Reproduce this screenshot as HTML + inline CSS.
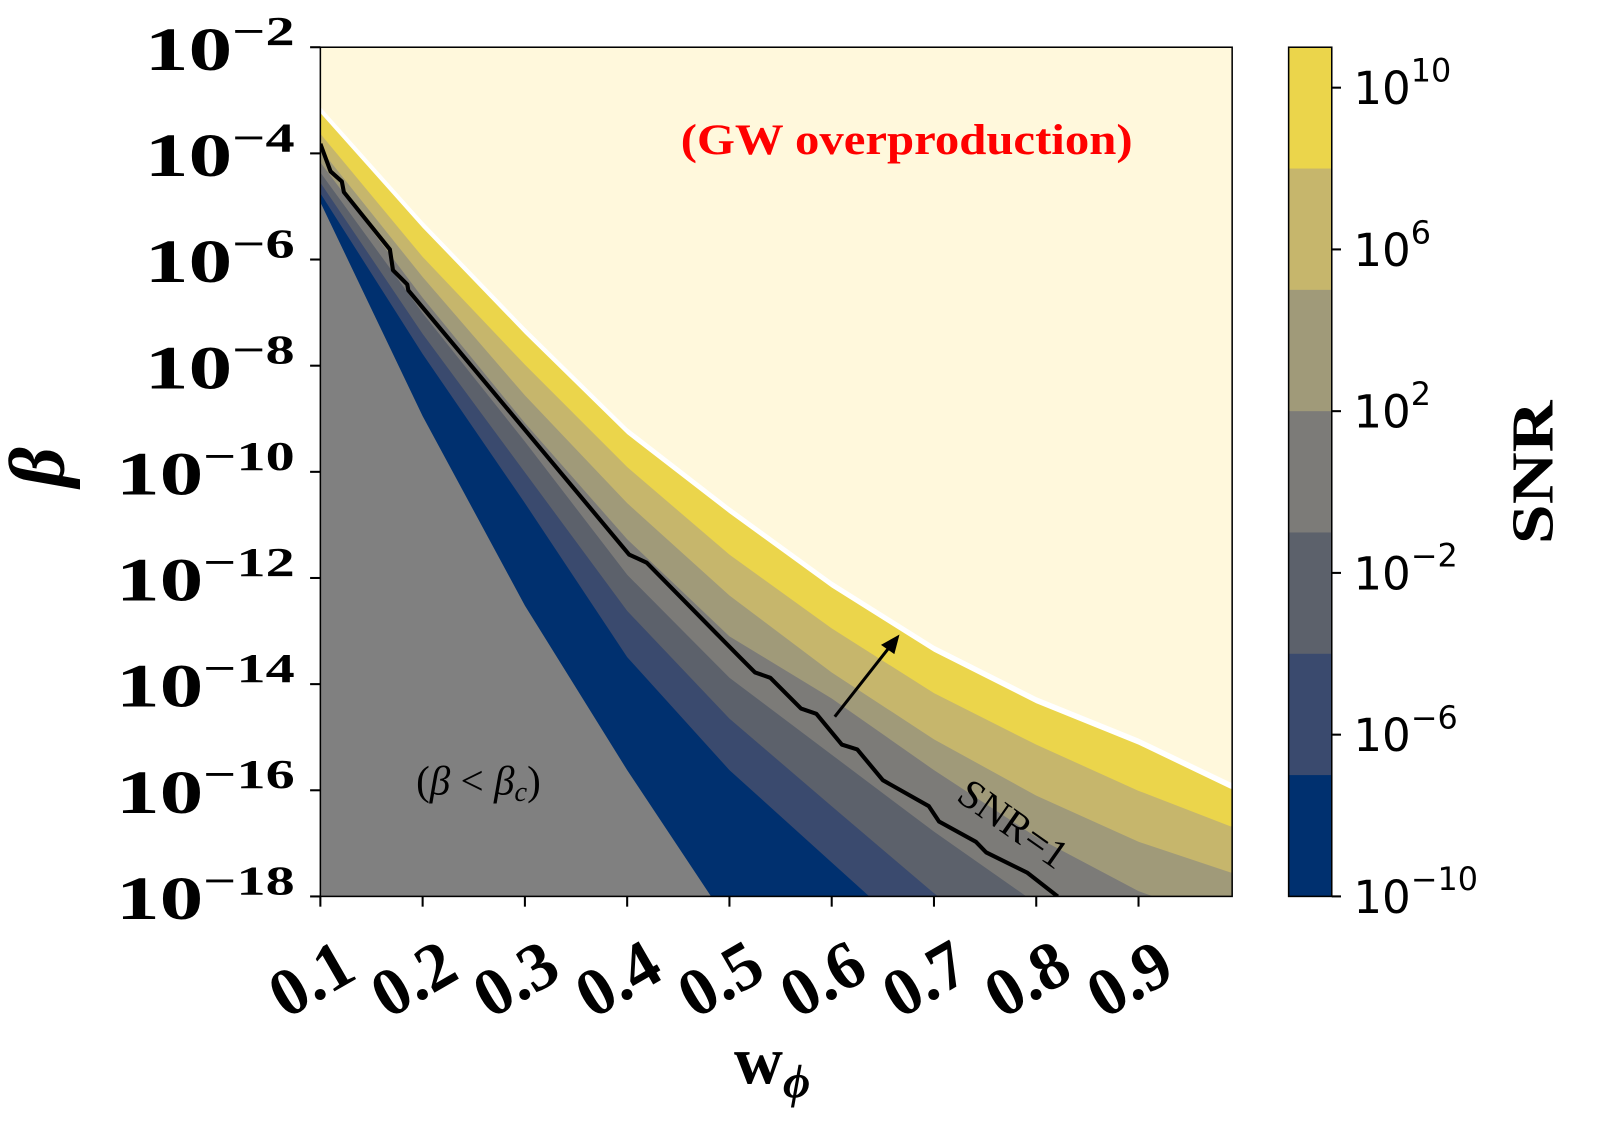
<!DOCTYPE html>
<html><head><meta charset="utf-8"><style>
html,body{margin:0;padding:0;background:#fff;width:1610px;height:1131px;overflow:hidden;}
svg{display:block;}
</style></head><body>
<svg id="chart" width="1610" height="1131" viewBox="0 0 1610 1131" xmlns="http://www.w3.org/2000/svg">
<defs><clipPath id="plotclip"><rect x="312" y="46" width="888" height="827"/></clipPath></defs>
<g transform="scale(1.0268)">
<g id="plot" clip-path="url(#plotclip)"></g>
<g id="axes"></g>
<text x="1512" y="460" transform="rotate(-90 1512 460)" text-anchor="middle" font-family="Liberation Serif, serif" font-weight="bold" font-size="58" textLength="140" lengthAdjust="spacingAndGlyphs">SNR</text>
<text x="62" y="455" transform="rotate(-90 62 455)" text-anchor="middle" font-family="Liberation Serif, serif" font-weight="bold" font-style="italic" font-size="76">β</text>
<text x="752" y="1055" text-anchor="middle" font-family="Liberation Serif, serif" font-weight="bold" font-size="66">w<tspan dy="14" font-size="46" font-style="italic">ϕ</tspan></text>
<text x="883" y="150" text-anchor="middle" font-family="Liberation Serif, serif" font-weight="bold" font-size="42" fill="#ff0000" textLength="440" lengthAdjust="spacingAndGlyphs">(GW overproduction)</text>
<text x="466" y="774" text-anchor="middle" font-family="Liberation Serif, serif" font-size="40" fill="#000">(<tspan font-style="italic">β</tspan> &lt; <tspan font-style="italic">β</tspan><tspan font-style="italic" font-size="28" dy="6">c</tspan><tspan dy="-6">)</tspan></text>
<text x="985" y="815" text-anchor="middle" font-family="Liberation Serif, serif" font-size="40" fill="#000" transform="rotate(35 985 805)">SNR=1</text>
<g>
<line x1="813" y1="698" x2="868" y2="628" stroke="#000" stroke-width="3"/>
<polygon points="876,618 858,628 871,637" fill="#000"/>
</g>
</g>
</svg>
<script>
const wGrid = [0.1,0.2,0.3,0.4,0.5,0.6,0.7,0.8,0.9,0.99];
const edgeTop  = [-3.24,-5.40,-7.40,-9.29,-10.78,-12.18,-13.39,-14.36,-15.14,-15.97];
const edge8    = [-3.63,-5.95,-7.98,-9.91,-11.56,-12.95,-14.17,-15.14,-16.01,-16.68];
const edge5    = [-3.92,-6.33,-8.56,-10.59,-12.33,-13.78,-15.04,-16.10,-16.97,-17.55];
const edge2    = [-4.17,-6.72,-9.08,-11.27,-13.10,-14.27,-15.62,-16.88,-17.90,-18.52];
const edgeM1   = [-4.36,-7.01,-9.43,-11.94,-13.88,-15.33,-16.78,-18.13,-19.1,-19.7];
const edgeM4   = [-4.55,-7.40,-10.01,-12.62,-14.65,-16.30,-17.94,-19.3,-20.5,-21.5];
const edgeM7   = [-4.75,-7.78,-10.59,-13.49,-15.62,-17.36,-19.1,-20.8,-22,-23];
const edgeBc   = [-4.92,-8.95,-12.52,-15.62,-18.52,-21,-23.5,-26,-28.5,-31];
const bandColors = ['#ebd54b','#c6b66c','#a09a79','#7c7b78','#5c616b','#3a4a6e','#00306f'];
const snrW = [0.1,0.110,0.121,0.123,0.168,0.171,0.185,0.186,0.402,0.419,0.490,0.510,0.525,0.540,0.570,0.585,0.610,0.625,0.650,0.695,0.705,0.741,0.751,0.791,0.821];
const snrL = [-3.82,-4.34,-4.53,-4.73,-5.81,-6.20,-6.47,-6.58,-11.56,-11.71,-13.10,-13.49,-13.78,-13.88,-14.46,-14.56,-15.14,-15.23,-15.81,-16.30,-16.59,-16.97,-17.17,-17.55,-18.0];
const yTicks = [-2,-4,-6,-8,-10,-12,-14,-16,-18];
const xTicks = [0.1,0.2,0.3,0.4,0.5,0.6,0.7,0.8,0.9];
const cbTicks = [10,6,2,-2,-6,-10];
const cbLevels = [11,8,5,2,-1,-4,-7,-10];

const NS='http://www.w3.org/2000/svg';
const X0=312,X1=1200,Y0=46,Y1=873;
const sx = w => X0 + (w-0.1)*996;
const sy = l => Y0 + (-2 - l)*51.69;
const cy = l => Y0 + (11 - l)*(Y1-Y0)/21;
function mk(tag, attrs, parent){const e=document.createElementNS(NS,tag);for(const k in attrs)e.setAttribute(k,attrs[k]);parent.appendChild(e);return e;}
const plot=document.getElementById('plot'), axes=document.getElementById('axes');

let r=mk('rect',{x:X0,y:Y0,width:X1-X0,height:Y1-Y0,fill:'#fff8dc'},plot);



{
  let pts=edgeTop.map((l,j)=>sx(wGrid[j])+','+(sy(l)-6));
  pts.push((X1+20)+','+(sy(edgeTop[edgeTop.length-1])-6),(X1+20)+','+(Y1+400),(X0-20)+','+(Y1+400));
  const p=mk('polygon',{points:pts.join(' '),fill:'#ffffff'},plot);
  
  
}
const edges=[edgeTop,edge8,edge5,edge2,edgeM1,edgeM4,edgeM7];
edges.forEach((e,i)=>{
  let pts=e.map((l,j)=>sx(wGrid[j])+','+sy(l));
  pts.push((X1+20)+','+sy(e[e.length-1]), (X1+20)+','+(Y1+400), (X0-20)+','+(Y1+400), (X0-20)+','+sy(e[0]));
  const p=mk('polygon',{points:pts.join(' '),fill:bandColors[i]},plot);
  
  
});
{
  let pts=edgeBc.map((l,j)=>sx(wGrid[j])+','+sy(l));
  pts.push((X0-20)+','+(Y1+3000),(X0-20)+','+sy(edgeBc[0]));
  const p=mk('polygon',{points:pts.join(' '),fill:'#808080'},plot);
  
  
}
{
  const p=mk('polyline',{points:snrW.map((w,i)=>sx(w)+','+sy(snrL[i])).join(' '),fill:'none',stroke:'#000','stroke-width':4,'stroke-linejoin':'round'},plot);
  
  
}
let fr=mk('rect',{x:X0,y:Y0,width:X1-X0,height:Y1-Y0,fill:'none',stroke:'#000','stroke-width':1.5},axes);



const serif='"Liberation Serif", serif', sans='"DejaVu Sans","Liberation Sans", sans-serif';
yTicks.forEach(t=>{
  const y=sy(t);
  mk('line',{x1:X0-10,x2:X0,y1:y,y2:y,stroke:'#000','stroke-width':2},axes);
  const sup='\u2212'+Math.abs(t);
  const tx=mk('text',{x:287,y:y+22,'text-anchor':'end','font-family':serif,'font-weight':'bold','font-size':60,fill:'#000',textLength:90+28*sup.length,lengthAdjust:'spacingAndGlyphs'},axes);
  
  
  const a=mk('tspan',{},tx);a.textContent='10';
  const b=mk('tspan',{dy:-24,'font-size':40},tx);b.textContent=sup;
});
xTicks.forEach(t=>{
  const x=sx(t);
  mk('line',{x1:x,x2:x,y1:Y1,y2:Y1+10,stroke:'#000','stroke-width':2},axes);
  const tx=mk('text',{x:x-8,y:975,'text-anchor':'middle','font-family':serif,'font-weight':'bold','font-size':66,fill:'#000',transform:'rotate(-30 '+(x-8)+' 955)'},axes);
  
  
  tx.textContent=t.toFixed(1);
});
for(let i=0;i<bandColors.length;i++){
  const rr=mk('rect',{x:1255,y:cy(cbLevels[i]),width:42,height:cy(cbLevels[i+1])-cy(cbLevels[i])+0.5,fill:bandColors[i]},axes);
  
  
}
mk('rect',{x:1255,y:Y0,width:42,height:Y1-Y0,fill:'none',stroke:'#000','stroke-width':1.5},axes);
cbTicks.forEach(t=>{
  const y=cy(t);
  mk('line',{x1:1297,x2:1306,y1:y,y2:y,stroke:'#000','stroke-width':2},axes);
  const tx=mk('text',{x:1318,y:y+16,'font-family':sans,'font-size':44,fill:'#000'},axes);
  
  
  const a=mk('tspan',{},tx);a.textContent='10';
  const b=mk('tspan',{dy:-22,'font-size':31},tx);b.textContent=(t<0?'\u2212':'')+Math.abs(t);
});
</script>
</body></html>
